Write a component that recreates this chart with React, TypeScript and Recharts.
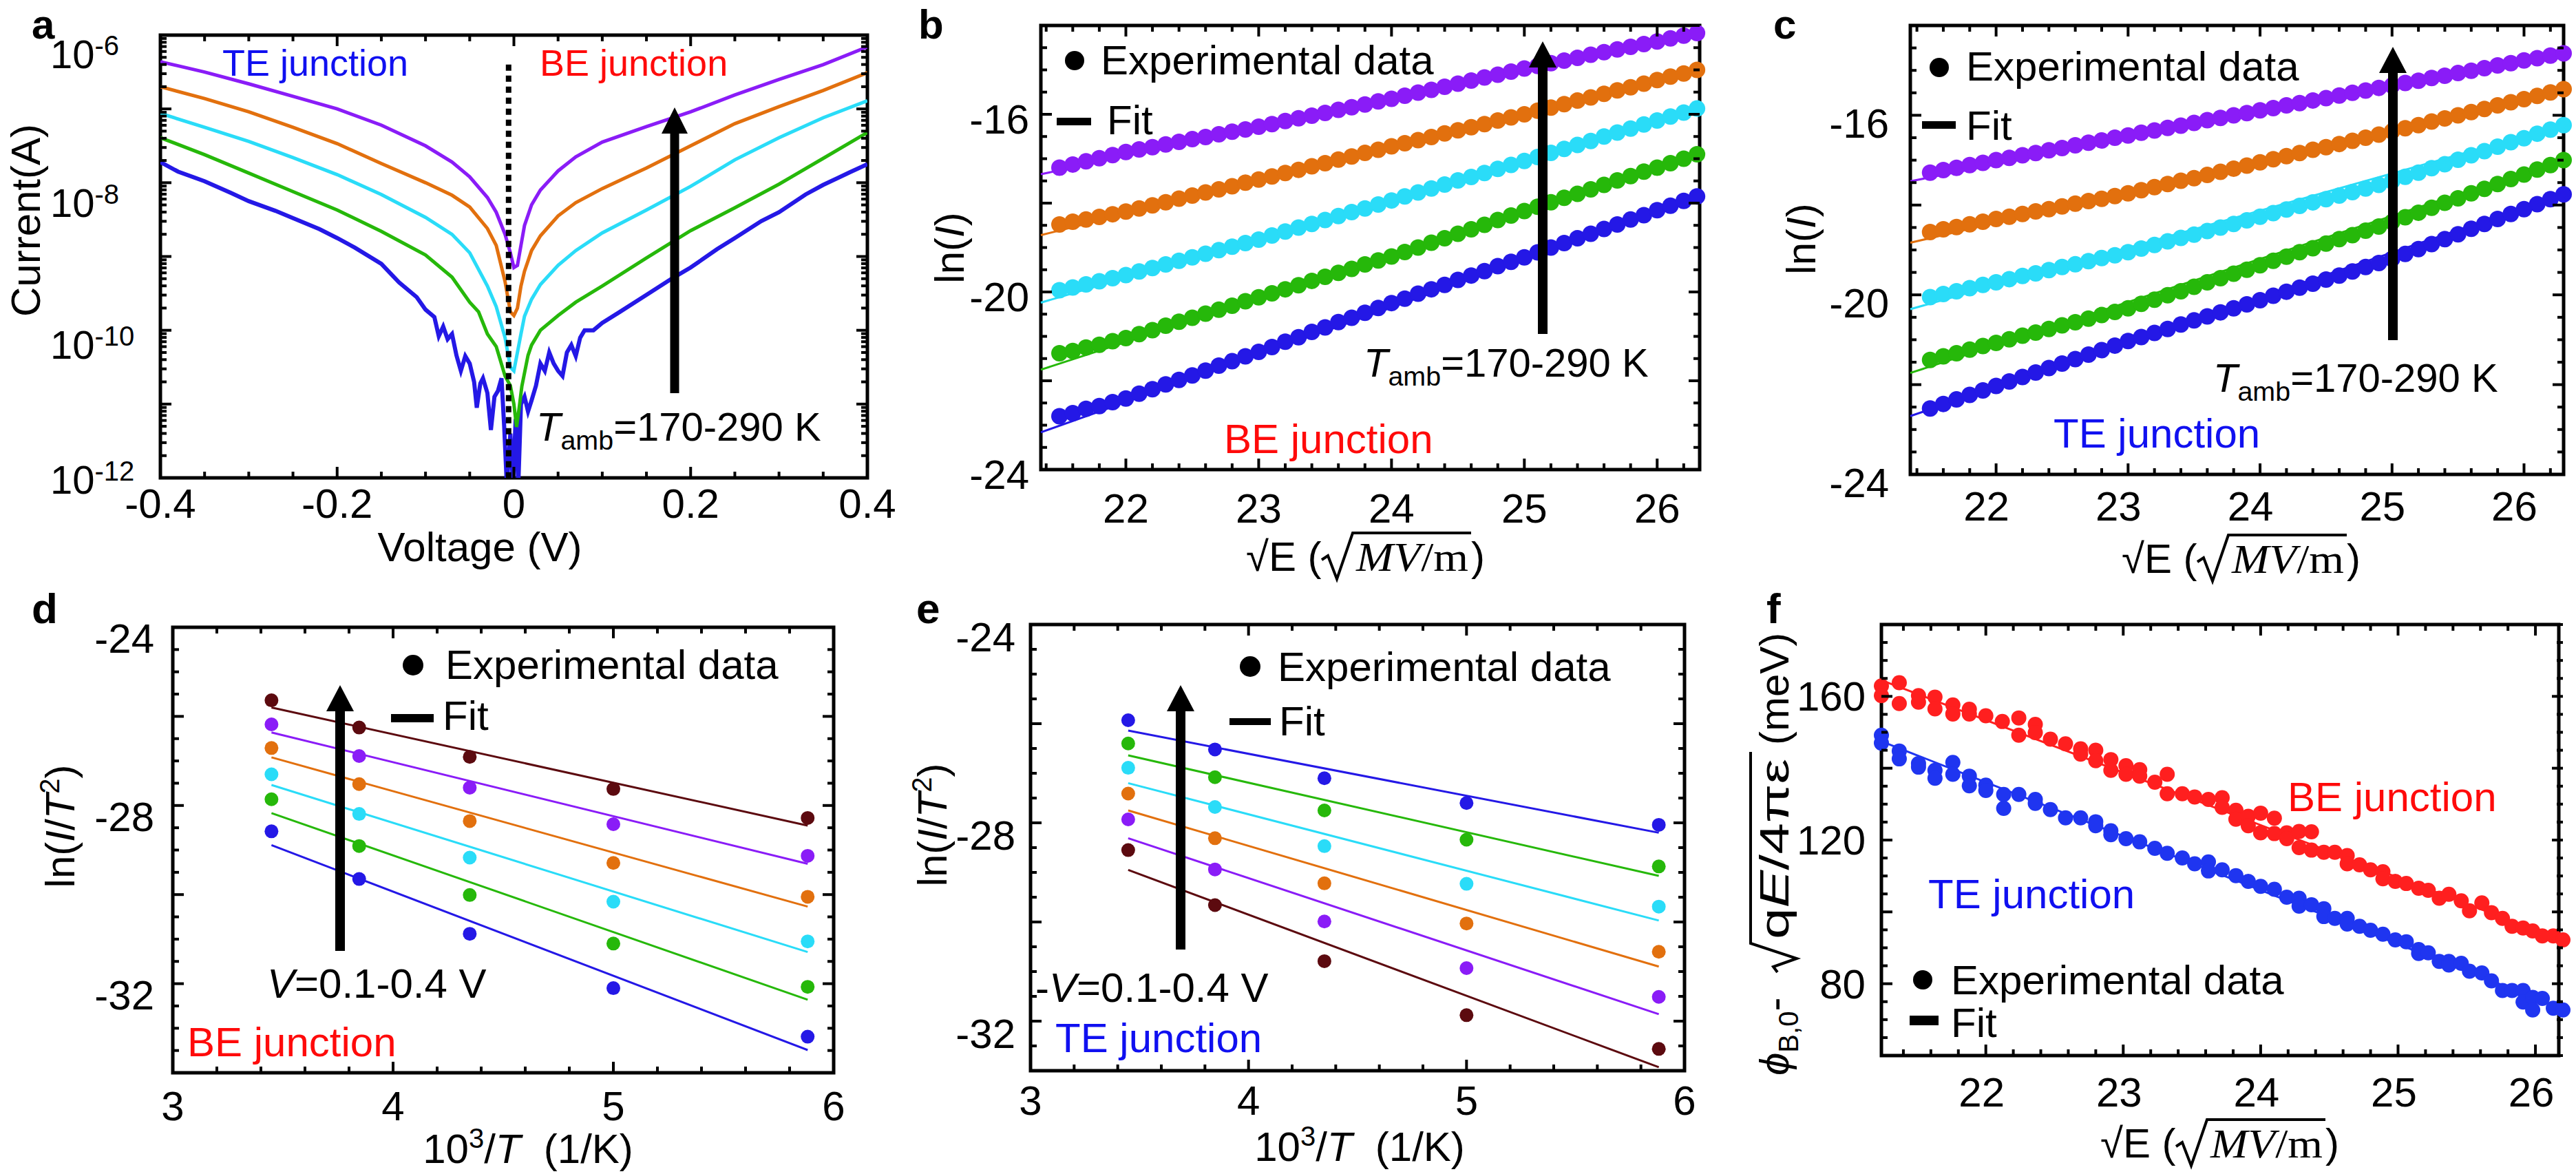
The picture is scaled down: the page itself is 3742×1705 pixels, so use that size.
import React from 'react';
import { ComposedChart, Line, Scatter, XAxis, YAxis, ReferenceArea, ReferenceLine } from 'recharts';

const SANS = '"Liberation Sans", Arial, Helvetica, sans-serif';
const SERIF = '"Liberation Serif", "Times New Roman", serif';

const COL = {
  purple: '#8A1CF7', orange: '#E2700E', cyan: '#2ADCF8', green: '#26B80A', blue: '#2418E6',
  brown: '#5C0A0F', red: '#FF1F1F', fblue: '#1F35F0', textBlue: '#1010F0', textRed: '#FF0A0A',
};

// ---------------- Panel a : I-V (log10 of current) ----------------
const aVoltsSmooth = [-0.4, -0.35, -0.3, -0.25, -0.2, -0.15, -0.1, -0.07, -0.05, -0.03, -0.02, -0.01, -0.004, 0, 0.004, 0.008, 0.012, 0.02, 0.03, 0.05, 0.07, 0.1, 0.15, 0.2, 0.25, 0.3, 0.35, 0.4];
const aPurpleLog = [-6.36, -6.5, -6.66, -6.83, -7.0, -7.22, -7.5, -7.72, -7.92, -8.2, -8.4, -8.7, -8.95, -9.15, -9.12, -8.85, -8.58, -8.3, -8.1, -7.84, -7.65, -7.45, -7.24, -7.04, -6.81, -6.6, -6.4, -6.16];
const aOrangeLog = [-6.7, -6.86, -7.04, -7.25, -7.47, -7.74, -8.0, -8.17, -8.33, -8.62, -8.85, -9.34, -9.75, -9.8, -9.7, -9.4, -9.2, -8.92, -8.72, -8.45, -8.27, -8.08, -7.8, -7.5, -7.2, -6.97, -6.75, -6.51];
const aCyanLog = [-7.06, -7.25, -7.44, -7.66, -7.89, -8.16, -8.47, -8.7, -8.95, -9.4, -9.68, -10.1, -10.5, -10.55, -10.3, -10.05, -9.81, -9.58, -9.38, -9.12, -8.92, -8.68, -8.37, -8.05, -7.69, -7.39, -7.12, -6.89];
const aGreenVolts = [-0.4, -0.35, -0.3, -0.25, -0.2, -0.15, -0.1, -0.07, -0.05, -0.04, -0.03, -0.02, -0.01, -0.004, 0, 0.003, 0.006, 0.009, 0.016, 0.02, 0.03, 0.05, 0.07, 0.1, 0.15, 0.2, 0.25, 0.3, 0.35, 0.4];
const aGreenLog = [-7.39, -7.62, -7.87, -8.12, -8.37, -8.66, -8.98, -9.28, -9.62, -9.75, -10.05, -10.22, -10.62, -10.75, -11.0, -11.31, -11.05, -10.76, -10.34, -10.2, -10.0, -9.8, -9.62, -9.4, -9.02, -8.65, -8.34, -8.02, -7.67, -7.32];
const aBlueVolts = [-0.4, -0.38, -0.35, -0.32, -0.3, -0.27, -0.25, -0.22, -0.2, -0.18, -0.15, -0.13, -0.11, -0.1, -0.09, -0.085, -0.08, -0.075, -0.07, -0.065, -0.06, -0.055, -0.05, -0.045, -0.042, -0.038, -0.035, -0.03, -0.026, -0.022, -0.018, -0.014, -0.011, -0.008, -0.004, -0.001, 0.002, 0.005, 0.008, 0.012, 0.016, 0.02, 0.025, 0.03, 0.035, 0.04, 0.045, 0.05, 0.055, 0.06, 0.065, 0.07, 0.075, 0.08, 0.09, 0.1, 0.12, 0.15, 0.18, 0.2, 0.23, 0.25, 0.28, 0.3, 0.33, 0.35, 0.38, 0.4];
const aBlueLog = [-7.72, -7.85, -7.98, -8.14, -8.25, -8.38, -8.48, -8.63, -8.75, -8.88, -9.1, -9.35, -9.55, -9.72, -9.82, -10.08, -9.95, -10.12, -10.05, -10.34, -10.55, -10.35, -10.45, -10.7, -11.05, -10.72, -10.65, -10.85, -11.35, -10.9, -10.82, -10.65, -11.3, -12.1, -11.4, -12.1, -11.2, -12.1, -11.0, -10.9, -11.1, -10.95, -10.75, -10.45, -10.55, -10.3, -10.45, -10.55, -10.62, -10.3, -10.2, -10.35, -10.1, -10.0, -10.0, -9.9, -9.75, -9.52, -9.29, -9.15, -8.9, -8.75, -8.52, -8.4, -8.16, -8.03, -7.86, -7.75];
const aXTickLabels = [-0.4, -0.2, 0, 0.2, 0.4];
const aYTickLabels = [-12, -10, -8, -6];

// ---------------- Panels b, c : ln(I) vs sqrt(E) ----------------
const bcX = [21.5, 21.6, 21.7, 21.8, 21.9, 22.0, 22.1, 22.2, 22.3, 22.4, 22.5, 22.6, 22.7, 22.8, 22.9, 23.0, 23.1, 23.2, 23.3, 23.4, 23.5, 23.6, 23.7, 23.8, 23.9, 24.0, 24.1, 24.2, 24.3, 24.4, 24.5, 24.6, 24.7, 24.8, 24.9, 25.0, 25.1, 25.2, 25.3, 25.4, 25.5, 25.6, 25.7, 25.8, 25.9, 26.0, 26.1, 26.2, 26.3];
const bBlue = [-22.80, -22.73, -22.63, -22.57, -22.48, -22.40, -22.29, -22.19, -22.08, -21.98, -21.88, -21.77, -21.66, -21.56, -21.45, -21.35, -21.24, -21.12, -21.02, -20.90, -20.80, -20.68, -20.58, -20.47, -20.36, -20.25, -20.15, -20.04, -19.94, -19.84, -19.73, -19.63, -19.53, -19.42, -19.32, -19.22, -19.11, -19.00, -18.90, -18.79, -18.69, -18.58, -18.48, -18.37, -18.27, -18.16, -18.06, -17.95, -17.85];
const bGreen = [-21.38, -21.33, -21.25, -21.19, -21.11, -21.04, -20.95, -20.86, -20.76, -20.67, -20.58, -20.49, -20.40, -20.31, -20.21, -20.12, -20.03, -19.94, -19.85, -19.75, -19.66, -19.57, -19.48, -19.38, -19.29, -19.20, -19.10, -19.00, -18.89, -18.79, -18.69, -18.59, -18.49, -18.38, -18.28, -18.18, -18.08, -17.98, -17.88, -17.79, -17.69, -17.59, -17.49, -17.39, -17.29, -17.20, -17.10, -17.00, -16.90];
const bCyan = [-19.96, -19.90, -19.83, -19.76, -19.69, -19.62, -19.54, -19.46, -19.38, -19.30, -19.22, -19.14, -19.06, -18.98, -18.90, -18.82, -18.73, -18.64, -18.55, -18.47, -18.38, -18.29, -18.20, -18.12, -18.03, -17.94, -17.85, -17.76, -17.67, -17.58, -17.49, -17.41, -17.32, -17.23, -17.14, -17.05, -16.96, -16.87, -16.78, -16.69, -16.60, -16.50, -16.41, -16.32, -16.23, -16.14, -16.05, -15.96, -15.87];
const bOrange = [-18.48, -18.42, -18.37, -18.31, -18.25, -18.19, -18.12, -18.05, -17.98, -17.90, -17.83, -17.76, -17.69, -17.62, -17.54, -17.47, -17.40, -17.32, -17.25, -17.17, -17.10, -17.02, -16.95, -16.87, -16.80, -16.72, -16.65, -16.58, -16.51, -16.43, -16.36, -16.29, -16.22, -16.14, -16.07, -16.00, -15.92, -15.85, -15.77, -15.69, -15.62, -15.54, -15.46, -15.39, -15.31, -15.23, -15.15, -15.08, -15.00];
const bPurple = [-17.20, -17.13, -17.06, -16.99, -16.92, -16.85, -16.79, -16.74, -16.68, -16.62, -16.56, -16.51, -16.45, -16.39, -16.34, -16.28, -16.22, -16.15, -16.09, -16.03, -15.97, -15.90, -15.84, -15.78, -15.71, -15.65, -15.58, -15.51, -15.45, -15.38, -15.31, -15.24, -15.17, -15.11, -15.04, -14.97, -14.91, -14.85, -14.79, -14.73, -14.66, -14.60, -14.54, -14.48, -14.42, -14.36, -14.29, -14.23, -14.17];
const bFitX = [21.36, 26.32];
const bFitBlue = [-23.16, -17.88];
const bFitGreen = [-21.75, -16.92];
const bFitCyan = [-20.24, -15.90];
const bFitOrange = [-18.72, -15.02];
const bFitPurple = [-17.35, -14.19];

const cBlue = [-22.53, -22.43, -22.33, -22.23, -22.13, -22.03, -21.93, -21.83, -21.73, -21.63, -21.53, -21.43, -21.33, -21.23, -21.13, -21.03, -20.94, -20.85, -20.76, -20.66, -20.57, -20.48, -20.39, -20.30, -20.21, -20.12, -20.02, -19.93, -19.84, -19.75, -19.66, -19.57, -19.48, -19.38, -19.29, -19.20, -19.09, -18.98, -18.87, -18.76, -18.65, -18.53, -18.42, -18.31, -18.20, -18.09, -17.98, -17.87, -17.76];
const cGreen = [-21.45, -21.37, -21.30, -21.22, -21.14, -21.07, -20.99, -20.91, -20.84, -20.76, -20.68, -20.61, -20.53, -20.45, -20.38, -20.30, -20.20, -20.11, -20.01, -19.92, -19.82, -19.72, -19.63, -19.53, -19.44, -19.34, -19.24, -19.15, -19.05, -18.96, -18.86, -18.76, -18.67, -18.57, -18.48, -18.38, -18.27, -18.17, -18.06, -17.95, -17.85, -17.74, -17.64, -17.53, -17.42, -17.32, -17.21, -17.11, -17.00];
const cCyan = [-20.05, -19.98, -19.92, -19.85, -19.78, -19.72, -19.65, -19.58, -19.52, -19.45, -19.38, -19.32, -19.25, -19.18, -19.12, -19.05, -18.97, -18.89, -18.81, -18.73, -18.66, -18.58, -18.50, -18.42, -18.34, -18.26, -18.18, -18.10, -18.02, -17.94, -17.87, -17.79, -17.71, -17.63, -17.55, -17.47, -17.37, -17.28, -17.18, -17.09, -16.99, -16.89, -16.80, -16.70, -16.60, -16.51, -16.41, -16.32, -16.22];
const cOrange = [-18.60, -18.54, -18.49, -18.43, -18.37, -18.31, -18.26, -18.20, -18.14, -18.09, -18.03, -17.97, -17.91, -17.86, -17.80, -17.74, -17.67, -17.60, -17.53, -17.46, -17.40, -17.33, -17.26, -17.19, -17.12, -17.05, -16.98, -16.91, -16.84, -16.77, -16.71, -16.64, -16.57, -16.50, -16.43, -16.36, -16.29, -16.22, -16.14, -16.07, -16.00, -15.93, -15.86, -15.78, -15.71, -15.64, -15.57, -15.49, -15.42];
const cPurple = [-17.28, -17.22, -17.17, -17.11, -17.06, -17.00, -16.95, -16.89, -16.84, -16.78, -16.73, -16.67, -16.61, -16.56, -16.50, -16.45, -16.39, -16.34, -16.28, -16.23, -16.17, -16.11, -16.06, -16.00, -15.95, -15.89, -15.84, -15.78, -15.73, -15.67, -15.62, -15.56, -15.50, -15.45, -15.39, -15.34, -15.28, -15.23, -15.17, -15.12, -15.06, -15.01, -14.95, -14.89, -14.84, -14.78, -14.73, -14.67, -14.62];
const cFitX = [21.35, 26.30];
const cFitBlue = [-22.70, -17.76];
const cFitGreen = [-21.74, -17.00];
const cFitCyan = [-20.32, -16.22];
const cFitOrange = [-18.84, -15.42];
const cFitPurple = [-17.47, -14.62];
const bcXTickLabels = [22, 23, 24, 25, 26];
const bcYTickLabels = [-24, -20, -16];

// ---------------- Panels d, e : Richardson plots ----------------
const invT = [3.448, 3.846, 4.348, 5.0, 5.882];
const deFitX = [3.448, 5.882];
const dBrown = [-25.64, -26.25, -26.91, -27.63, -28.28];
const dPurple = [-26.18, -26.89, -27.60, -28.42, -29.13];
const dOrange = [-26.71, -27.52, -28.35, -29.29, -30.05];
const dCyan = [-27.30, -28.19, -29.17, -30.16, -31.05];
const dGreen = [-27.86, -28.91, -30.01, -31.10, -32.07];
const dBlue = [-28.58, -29.65, -30.88, -32.10, -33.19];
const dFitBrown = [-25.80, -28.45];
const dFitPurple = [-26.36, -29.31];
const dFitOrange = [-26.92, -30.27];
const dFitCyan = [-27.54, -31.29];
const dFitGreen = [-28.17, -32.36];
const dFitBlue = [-28.89, -33.49];
const eBlue = [-25.93, -26.52, -27.10, -27.60, -28.04];
const eGreen = [-26.40, -27.08, -27.75, -28.34, -28.88];
const eCyan = [-26.89, -27.68, -28.47, -29.23, -29.69];
const eOrange = [-27.41, -28.31, -29.22, -30.03, -30.60];
const ePurple = [-27.93, -28.94, -29.99, -30.93, -31.51];
const eBrown = [-28.55, -29.66, -30.79, -31.88, -32.56];
const eFitBlue = [-26.14, -28.20];
const eFitGreen = [-26.64, -29.07];
const eFitCyan = [-27.20, -29.97];
const eFitOrange = [-27.75, -30.90];
const eFitPurple = [-28.31, -31.86];
const eFitBrown = [-28.95, -32.93];
const deXTickLabels = [3, 4, 5, 6];
const deYTickLabels = [-32, -28, -24];

// ---------------- Panel f : barrier height ----------------
const fRedX = [21.24, 21.24, 21.37, 21.37, 21.51, 21.51, 21.63, 21.63, 21.76, 21.76, 21.88, 21.88, 22.00, 22.12, 22.24, 22.24, 22.36, 22.36, 22.47, 22.58, 22.69, 22.69, 22.80, 22.80, 22.91, 22.91, 23.02, 23.02, 23.12, 23.12, 23.23, 23.32, 23.32, 23.43, 23.52, 23.62, 23.72, 23.72, 23.82, 23.82, 23.91, 23.91, 24.00, 24.00, 24.10, 24.10, 24.19, 24.19, 24.28, 24.28, 24.37, 24.37, 24.46, 24.54, 24.63, 24.63, 24.72, 24.80, 24.89, 24.89, 24.98, 25.06, 25.15, 25.22, 25.30, 25.37, 25.46, 25.52, 25.61, 25.68, 25.76, 25.83, 25.91, 25.98, 26.05, 26.13, 26.20];
const fRedY = [162.9, 160.2, 163.8, 158.0, 160.2, 158.4, 159.8, 156.5, 157.6, 155.1, 156.4, 155.1, 154.6, 153.0, 154.0, 149.2, 152.2, 149.9, 148.1, 146.8, 145.4, 143.9, 145.0, 142.1, 142.4, 139.4, 140.7, 138.3, 139.6, 137.8, 136.1, 138.3, 132.9, 132.9, 132.0, 131.3, 131.8, 129.1, 128.3, 125.8, 126.6, 124.0, 127.5, 122.0, 126.1, 121.8, 122.0, 120.4, 122.4, 117.9, 122.3, 117.2, 116.6, 116.6, 115.7, 113.4, 113.1, 111.7, 111.2, 109.2, 108.5, 107.9, 106.6, 106.0, 103.8, 104.9, 103.1, 100.3, 102.5, 99.8, 98.2, 96.0, 95.5, 94.7, 93.3, 93.3, 92.2];
const fBlueX = [21.24, 21.24, 21.37, 21.37, 21.51, 21.51, 21.63, 21.63, 21.76, 21.76, 21.88, 21.88, 22.00, 22.00, 22.13, 22.13, 22.24, 22.36, 22.36, 22.47, 22.58, 22.69, 22.80, 22.80, 22.91, 22.91, 23.02, 23.12, 23.23, 23.32, 23.43, 23.52, 23.62, 23.62, 23.72, 23.82, 23.91, 24.00, 24.10, 24.19, 24.28, 24.28, 24.37, 24.46, 24.46, 24.54, 24.63, 24.63, 24.72, 24.80, 24.89, 24.98, 25.06, 25.15, 25.15, 25.22, 25.30, 25.37, 25.37, 25.46, 25.52, 25.61, 25.68, 25.76, 25.83, 25.91, 25.91, 25.98, 25.98, 26.05, 26.13, 26.20];
const fBlueY = [149.2, 147.0, 144.8, 142.6, 141.3, 140.3, 139.4, 137.2, 141.6, 138.3, 137.8, 135.1, 135.3, 133.8, 132.7, 128.8, 132.7, 131.3, 130.2, 128.5, 126.2, 126.2, 125.1, 124.0, 122.6, 121.5, 120.4, 119.5, 117.7, 116.3, 115.0, 113.4, 113.9, 111.4, 111.7, 110.1, 108.5, 107.1, 106.3, 104.1, 103.8, 101.6, 102.0, 100.9, 98.7, 98.2, 98.2, 96.6, 96.0, 94.9, 93.8, 92.2, 91.7, 89.5, 88.4, 88.6, 86.2, 86.2, 85.2, 85.7, 83.5, 83.0, 80.8, 78.1, 78.1, 78.1, 74.9, 76.2, 72.7, 75.9, 73.2, 72.7];
const fFitX = [21.24, 26.2];
const fFitRed = [164.5, 92.0];
const fFitBlue = [147.5, 73.0];
const fYTickLabels = [80, 120, 160];

// ---------------- helpers ----------------
const pts = (xs: number[], ys: number[]) => xs.map((x, i) => ({ x, y: ys[i] }));
function range(a: number, b: number, s: number) {
  const n = Math.round((b - a) / s);
  return Array.from({ length: n + 1 }, (_, i) => +(a + i * s).toFixed(4));
}
const near = (v: number, arr: number[]) => arr.some((a) => Math.abs(a - v) < 1e-6);
const onStep = (v: number, s: number) => Math.abs(v / s - Math.round(v / s)) < 1e-6;

const aYTicks = (() => {
  const t: number[] = [];
  for (let n = -12; n <= -6; n++) {
    t.push(n);
    if (n < -6) for (let k = 2; k <= 9; k++) t.push(+(n + Math.log10(k)).toFixed(5));
  }
  return t;
})();

const ML = 220, MT = 50, MR = 70, MB = 160;
type Box = { l: number; t: number; r: number; b: number };

type FrameProps = {
  box: Box;
  xDomain: [number, number];
  yDomain: [number, number];
  xTicks: number[];
  yTicks: number[];
  xMajor: (v: number) => boolean;
  yMajor: (v: number) => boolean;
  xLabels: number[];
  yLabels: number[];
  xLabelDy: number;
  xLabelDx?: number;
  yLabelGap: number;
  yLabelDy: number;
  yLabelRender?: (v: number, pl: number, y: number) => React.ReactNode;
  clip?: boolean;
  children: React.ReactNode;
};

function Frame(p: FrameProps) {
  const w = p.box.r - p.box.l, h = p.box.b - p.box.t;
  const pl = ML, pr = ML + w, pt = MT, pb = MT + h;
  const xTick = (tp: any) => {
    const v = tp.payload.value as number;
    const x = tp.x as number;
    const len = p.xMajor(v) ? 16 : 9;
    return (
      <g>
        <line x1={x} x2={x} y1={pb} y2={pb - len} stroke="#000" strokeWidth={4} />
        <line x1={x} x2={x} y1={pt} y2={pt + len} stroke="#000" strokeWidth={4} />
        {near(v, p.xLabels) && (
          <text x={x + (p.xLabelDx || 0)} y={pb + p.xLabelDy} textAnchor="middle" fontSize={60} fontFamily={SANS} fill="#000">
            {String(v)}
          </text>
        )}
      </g>
    );
  };
  const yTick = (tp: any) => {
    const v = tp.payload.value as number;
    const y = tp.y as number;
    const len = p.yMajor(v) ? 16 : 9;
    return (
      <g>
        <line x1={pl} x2={pl + len} y1={y} y2={y} stroke="#000" strokeWidth={4} />
        <line x1={pr} x2={pr - len} y1={y} y2={y} stroke="#000" strokeWidth={4} />
        {near(v, p.yLabels) &&
          (p.yLabelRender ? (
            p.yLabelRender(v, pl, y)
          ) : (
            <text x={pl - p.yLabelGap} y={y + p.yLabelDy} textAnchor="end" fontSize={60} fontFamily={SANS} fill="#000">
              {String(v)}
            </text>
          ))}
      </g>
    );
  };
  return (
    <div style={{ position: 'absolute', left: p.box.l - ML, top: p.box.t - MT }}>
      <ComposedChart width={w + ML + MR} height={h + MT + MB} margin={{ top: MT, right: MR, bottom: 0, left: 0 }}>
        <XAxis type="number" dataKey="x" domain={p.xDomain} ticks={p.xTicks} interval={0} allowDataOverflow={!!p.clip}
          tickLine={false} axisLine={false} height={MB} tick={xTick} />
        <YAxis type="number" dataKey="y" domain={p.yDomain} ticks={p.yTicks} interval={0} allowDataOverflow={!!p.clip}
          tickLine={false} axisLine={false} width={ML} tick={yTick} />
        {p.children}
        <ReferenceArea x1={p.xDomain[0]} x2={p.xDomain[1]} y1={p.yDomain[0]} y2={p.yDomain[1]}
          fill="none" fillOpacity={0} stroke="#000" strokeWidth={5} ifOverflow="visible" />
      </ComposedChart>
    </div>
  );
}

const dotShape = (r: number, color: string) => (props: any) =>
  <circle cx={props.cx} cy={props.cy} r={r} fill={color} />;

function fitLine(key: string, xs: number[], ys: number[], color: string, w = 3) {
  return <Line key={key} data={pts(xs, ys)} dataKey="y" stroke={color} strokeWidth={w} dot={false}
    isAnimationActive={false} type="linear" />;
}
function dots(key: string, xs: number[], ys: number[], color: string, r: number) {
  return <Scatter key={key} data={pts(xs, ys)} fill={color} shape={dotShape(r, color)} isAnimationActive={false} />;
}

// ---------------- overlay helpers ----------------
function Arrow({ x, yBottom, yTip, headLen = 38, headW = 40, shaftW = 14 }: any) {
  return (
    <g>
      <rect x={x - shaftW / 2} y={yTip + headLen - 2} width={shaftW} height={yBottom - (yTip + headLen - 2)} fill="#000" />
      <polygon points={`${x - headW / 2},${yTip + headLen} ${x + headW / 2},${yTip + headLen} ${x},${yTip}`} fill="#000" />
    </g>
  );
}
function Tamb({ x, y, size = 58 }: any) {
  return (
    <text x={x} y={y} fontFamily={SANS} fontSize={size} fill="#000">
      <tspan fontStyle="italic">T</tspan>
      <tspan fontSize={size * 0.68} dy={13}>amb</tspan>
      <tspan dy={-13}>=170-290 K</tspan>
    </text>
  );
}
function SqrtETitle({ x, y }: any) {
  return (
    <g>
      <text x={x} y={y} fontFamily={SANS} fontSize={60} fill="#000">√E (</text>
      <path d={`M${x + 110} ${y - 16} L${x + 119} ${y - 22} L${x + 132} ${y + 12} L${x + 155} ${y - 55} L${x + 327} ${y - 55}`}
        fill="none" stroke="#000" strokeWidth={4} />
      <text x={x + 160} y={y} fontFamily={SERIF} fontSize={60} fill="#000" textLength={163} lengthAdjust="spacingAndGlyphs">
        <tspan fontStyle="italic">MV</tspan>/m
      </text>
      <text x={x + 327} y={y} fontFamily={SANS} fontSize={60} fill="#000">)</text>
    </g>
  );
}
function Legend({ dot, r, expX, expY, bar, fitX, fitY }: any) {
  return (
    <g>
      <circle cx={dot[0]} cy={dot[1]} r={r} fill="#000" />
      <text x={expX} y={expY} fontFamily={SANS} fontSize={60} fill="#000">Experimental data</text>
      <rect x={bar[0]} y={bar[1]} width={bar[2] - bar[0]} height={bar[3] - bar[1]} fill="#000" />
      <text x={fitX} y={fitY} fontFamily={SANS} fontSize={60} fill="#000">Fit</text>
    </g>
  );
}
const Txt = (props: any) => <text fontFamily={SANS} fontSize={60} fill="#000" {...props} />;

const BOX_A: Box = { l: 233, t: 51, r: 1260, b: 694 };
const BOX_B: Box = { l: 1512, t: 37, r: 2469, b: 682 };
const BOX_C: Box = { l: 2775, t: 37, r: 3724, b: 689 };
const BOX_D: Box = { l: 251, t: 911, r: 1211, b: 1558 };
const BOX_E: Box = { l: 1497, t: 907, r: 2447, b: 1555 };
const BOX_F: Box = { l: 2733, t: 907, r: 3723, b: 1533 };

const aLabelOffset: Record<string, number> = { '-6': 27, '-8': 29, '-10': 20, '-12': 2 };

export default function App() {
  const aSeries = [
    { k: 'blue', d: pts(aBlueVolts, aBlueLog), c: COL.blue, w: 6 },
    { k: 'green', d: pts(aGreenVolts, aGreenLog), c: COL.green, w: 5 },
    { k: 'cyan', d: pts(aVoltsSmooth, aCyanLog), c: COL.cyan, w: 5 },
    { k: 'orange', d: pts(aVoltsSmooth, aOrangeLog), c: COL.orange, w: 5 },
    { k: 'purple', d: pts(aVoltsSmooth, aPurpleLog), c: COL.purple, w: 5 },
  ];
  const bcMajorX = (v: number) => onStep(v, 1);
  const bcMajorY = (v: number) => onStep(v, 2);

  return (
    <div style={{ position: 'absolute', left: 0, top: 0, width: 3742, height: 1705, background: '#fff', overflow: 'hidden', fontFamily: SANS }}>
      {/* Panel a */}
      <Frame box={BOX_A} xDomain={[-0.4, 0.4]} yDomain={[-12, -6]} xTicks={range(-0.4, 0.4, 0.05)} yTicks={aYTicks}
        xMajor={(v) => onStep(v, 0.2)} yMajor={(v) => onStep(v, 1)} xLabels={aXTickLabels} yLabels={aYTickLabels}
        xLabelDy={58} yLabelGap={20} yLabelDy={21} clip
        yLabelRender={(v, pl, y) => (
          <text x={pl - 160} y={y + (aLabelOffset[String(v)] || 0) + 21} fontSize={58} fontFamily={SANS} fill="#000">
            10<tspan fontSize={40} dy={-19}>{String(v)}</tspan>
          </text>
        )}>
        {aSeries.map((s) => (
          <Line key={s.k} data={s.d} dataKey="y" stroke={s.c} strokeWidth={s.w} dot={false} isAnimationActive={false} type="linear" />
        ))}
        <ReferenceLine segment={[{ x: -0.006, y: -6.4 }, { x: -0.006, y: -12 }]} stroke="#000" strokeWidth={8}
          strokeDasharray="9 7" ifOverflow="visible" />
      </Frame>

      {/* Panel b */}
      <Frame box={BOX_B} xDomain={[21.36, 26.32]} yDomain={[-24, -14]} xTicks={range(21.4, 26.2, 0.2)} yTicks={range(-24, -14, 0.5)}
        xMajor={bcMajorX} yMajor={bcMajorY} xLabels={bcXTickLabels} yLabels={bcYTickLabels}
        xLabelDy={77} yLabelGap={17} yLabelDy={28}>
        {fitLine('fb1', bFitX, bFitBlue, COL.blue)}
        {fitLine('fb2', bFitX, bFitGreen, COL.green)}
        {fitLine('fb3', bFitX, bFitCyan, COL.cyan)}
        {fitLine('fb4', bFitX, bFitOrange, COL.orange)}
        {fitLine('fb5', bFitX, bFitPurple, COL.purple)}
        {dots('db1', bcX, bBlue, COL.blue, 12)}
        {dots('db2', bcX, bGreen, COL.green, 12)}
        {dots('db3', bcX, bCyan, COL.cyan, 12)}
        {dots('db4', bcX, bOrange, COL.orange, 12)}
        {dots('db5', bcX, bPurple, COL.purple, 12)}
      </Frame>

      {/* Panel c */}
      <Frame box={BOX_C} xDomain={[21.35, 26.3]} yDomain={[-24, -14]} xTicks={range(21.4, 26.2, 0.2)} yTicks={range(-24, -14, 0.5)}
        xMajor={bcMajorX} yMajor={bcMajorY} xLabels={bcXTickLabels} yLabels={bcYTickLabels}
        xLabelDy={67} xLabelDx={-14} yLabelGap={31} yLabelDy={33}>
        {fitLine('fc1', cFitX, cFitBlue, COL.blue)}
        {fitLine('fc2', cFitX, cFitGreen, COL.green)}
        {fitLine('fc3', cFitX, cFitCyan, COL.cyan)}
        {fitLine('fc4', cFitX, cFitOrange, COL.orange)}
        {fitLine('fc5', cFitX, cFitPurple, COL.purple)}
        {dots('dc1', bcX, cBlue, COL.blue, 12)}
        {dots('dc2', bcX, cGreen, COL.green, 12)}
        {dots('dc3', bcX, cCyan, COL.cyan, 12)}
        {dots('dc4', bcX, cOrange, COL.orange, 12)}
        {dots('dc5', bcX, cPurple, COL.purple, 12)}
      </Frame>

      {/* Panel d */}
      <Frame box={BOX_D} xDomain={[3, 6]} yDomain={[-34, -24]} xTicks={range(3, 6, 0.2)} yTicks={range(-34, -24, 0.5)}
        xMajor={(v) => onStep(v, 1)} yMajor={(v) => onStep(v, 2)} xLabels={deXTickLabels} yLabels={deYTickLabels}
        xLabelDy={69} yLabelGap={27} yLabelDy={37}>
        {fitLine('fd1', deFitX, dFitBrown, COL.brown)}
        {fitLine('fd2', deFitX, dFitPurple, COL.purple)}
        {fitLine('fd3', deFitX, dFitOrange, COL.orange)}
        {fitLine('fd4', deFitX, dFitCyan, COL.cyan)}
        {fitLine('fd5', deFitX, dFitGreen, COL.green)}
        {fitLine('fd6', deFitX, dFitBlue, COL.blue)}
        {dots('dd1', invT, dBrown, COL.brown, 10)}
        {dots('dd2', invT, dPurple, COL.purple, 10)}
        {dots('dd3', invT, dOrange, COL.orange, 10)}
        {dots('dd4', invT, dCyan, COL.cyan, 10)}
        {dots('dd5', invT, dGreen, COL.green, 10)}
        {dots('dd6', invT, dBlue, COL.blue, 10)}
      </Frame>

      {/* Panel e */}
      <Frame box={BOX_E} xDomain={[3, 6]} yDomain={[-33, -24]} xTicks={range(3, 6, 0.2)} yTicks={range(-33, -24, 0.5)}
        xMajor={(v) => onStep(v, 1)} yMajor={(v) => onStep(v, 2)} xLabels={deXTickLabels} yLabels={deYTickLabels}
        xLabelDy={64} yLabelGap={22} yLabelDy={39}>
        {fitLine('fe1', deFitX, eFitBlue, COL.blue)}
        {fitLine('fe2', deFitX, eFitGreen, COL.green)}
        {fitLine('fe3', deFitX, eFitCyan, COL.cyan)}
        {fitLine('fe4', deFitX, eFitOrange, COL.orange)}
        {fitLine('fe5', deFitX, eFitPurple, COL.purple)}
        {fitLine('fe6', deFitX, eFitBrown, COL.brown)}
        {dots('de1', invT, eBlue, COL.blue, 10)}
        {dots('de2', invT, eGreen, COL.green, 10)}
        {dots('de3', invT, eCyan, COL.cyan, 10)}
        {dots('de4', invT, eOrange, COL.orange, 10)}
        {dots('de5', invT, ePurple, COL.purple, 10)}
        {dots('de6', invT, eBrown, COL.brown, 10)}
      </Frame>

      {/* Panel f */}
      <Frame box={BOX_F} xDomain={[21.24, 26.17]} yDomain={[60, 180]} xTicks={range(21.4, 26.0, 0.2)} yTicks={range(60, 180, 5)}
        xMajor={(v) => onStep(v, 1)} yMajor={(v) => onStep(v, 20)} xLabels={bcXTickLabels} yLabels={fYTickLabels}
        xLabelDy={74} xLabelDx={-6} yLabelGap={23} yLabelDy={21}>
        {fitLine('ff1', fFitX, fFitRed, COL.red)}
        {fitLine('ff2', fFitX, fFitBlue, COL.fblue)}
        {dots('df1', fRedX, fRedY, COL.red, 11)}
        {dots('df2', fBlueX, fBlueY, COL.fblue, 11)}
      </Frame>

      {/* Overlay annotations */}
      <svg width={3742} height={1705} style={{ position: 'absolute', left: 0, top: 0, pointerEvents: 'none' }}>
        {/* panel letters */}
        <Txt x={46} y={56} fontWeight="bold" fontSize={60}>a</Txt>
        <Txt x={1334} y={56} fontWeight="bold" fontSize={60}>b</Txt>
        <Txt x={2576} y={56} fontWeight="bold" fontSize={60}>c</Txt>
        <Txt x={46} y={905} fontWeight="bold" fontSize={62}>d</Txt>
        <Txt x={1331} y={905} fontWeight="bold" fontSize={62}>e</Txt>
        <Txt x={2566} y={905} fontWeight="bold" fontSize={62}>f</Txt>

        {/* panel a */}
        <Txt x={323} y={110} fontSize={54} fill={COL.textBlue}>TE junction</Txt>
        <Txt x={784} y={110} fontSize={54} fill={COL.textRed}>BE junction</Txt>
        <Arrow x={980} yBottom={571} yTip={156} headW={38} headLen={38} shaftW={13} />
        <Tamb x={779} y={640} />
        <Txt x={697} y={815} textAnchor="middle">Voltage (V)</Txt>
        <Txt transform="translate(58,320) rotate(-90)" textAnchor="middle">Current(A)</Txt>

        {/* panel b */}
        <Legend dot={[1561, 88]} r={14} expX={1599} expY={108} bar={[1535, 171, 1585, 182]} fitX={1608} fitY={195} />
        <Arrow x={2241} yBottom={485} yTip={60} />
        <Tamb x={1981} y={547} />
        <Txt x={1778} y={658} fill={COL.textRed}>BE junction</Txt>
        <SqrtETitle x={1810} y={829} />
        <Txt transform="translate(1400,360) rotate(-90)" textAnchor="middle">
          ln(<tspan fontStyle="italic">I</tspan>)
        </Txt>

        {/* panel c */}
        <Legend dot={[2817, 98]} r={14} expX={2856} expY={117} bar={[2792, 176, 2841, 187]} fitX={2856} fitY={203} />
        <Arrow x={3476} yBottom={494} yTip={68} />
        <Tamb x={3215} y={569} />
        <Txt x={2983} y={650} fill={COL.textBlue}>TE junction</Txt>
        <SqrtETitle x={3082} y={832} />
        <Txt transform="translate(2637,347) rotate(-90)" textAnchor="middle">
          ln(<tspan fontStyle="italic">I</tspan>)
        </Txt>

        {/* panel d */}
        <Legend dot={[600, 966]} r={15} expX={647} expY={986} bar={[568, 1037, 630, 1049]} fitX={643} fitY={1060} />
        <Arrow x={494} yBottom={1381} yTip={995} />
        <Txt x={388} y={1449}><tspan fontStyle="italic">V</tspan>=0.1-0.4 V</Txt>
        <Txt x={272} y={1534} fill={COL.textRed}>BE junction</Txt>
        <Txt x={767} y={1689} textAnchor="middle">
          10<tspan fontSize={40} dy={-22}>3</tspan><tspan dy={22}>/</tspan><tspan fontStyle="italic">T</tspan>{'\u00a0\u00a0(1/K)'}
        </Txt>
        <Txt transform="translate(108,1200) rotate(-90)" textAnchor="middle">
          ln(<tspan fontStyle="italic">I</tspan>/<tspan fontStyle="italic">T</tspan><tspan fontSize={40} dy={-22}>2</tspan><tspan dy={22}>)</tspan>
        </Txt>

        {/* panel e */}
        <Legend dot={[1816, 968]} r={15} expX={1856} expY={989} bar={[1786, 1043, 1846, 1053]} fitX={1858} fitY={1068} />
        <Arrow x={1715} yBottom={1379} yTip={995} />
        <Txt x={1504} y={1455}>-<tspan fontStyle="italic">V</tspan>=0.1-0.4 V</Txt>
        <Txt x={1533} y={1528} fill={COL.textBlue}>TE junction</Txt>
        <Txt x={1975} y={1686} textAnchor="middle">
          10<tspan fontSize={40} dy={-22}>3</tspan><tspan dy={22}>/</tspan><tspan fontStyle="italic">T</tspan>{'\u00a0\u00a0(1/K)'}
        </Txt>
        <Txt transform="translate(1375,1198) rotate(-90)" textAnchor="middle">
          ln(<tspan fontStyle="italic">I</tspan>/<tspan fontStyle="italic">T</tspan><tspan fontSize={40} dy={-22}>2</tspan><tspan dy={22}>)</tspan>
        </Txt>

        {/* panel f */}
        <Legend dot={[2793, 1423]} r={14} expX={2834} expY={1444} bar={[2774, 1475, 2816, 1489]} fitX={2834} fitY={1506} />
        <Txt x={3323} y={1178} fill={COL.textRed}>BE junction</Txt>
        <Txt x={2801} y={1319} fill={COL.textBlue}>TE junction</Txt>
        <SqrtETitle x={3051} y={1681} />
        <g transform="translate(2598,1562) rotate(-90)">
          <Txt x={0} y={0}>
            <tspan fontStyle="italic">ϕ</tspan><tspan fontSize={40} dy={14}>B,0</tspan><tspan dy={-14}>-</tspan>
          </Txt>
          <path d="M150 -16 L158 -22 L170 12 L192 -55 L470 -55" fill="none" stroke="#000" strokeWidth={4} />
          <Txt x={198} y={0} textLength={262} lengthAdjust="spacingAndGlyphs">
            q<tspan fontStyle="italic">E</tspan>/4πε
          </Txt>
          <Txt x={480} y={0}>(meV)</Txt>
        </g>
      </svg>
    </div>
  );
}
